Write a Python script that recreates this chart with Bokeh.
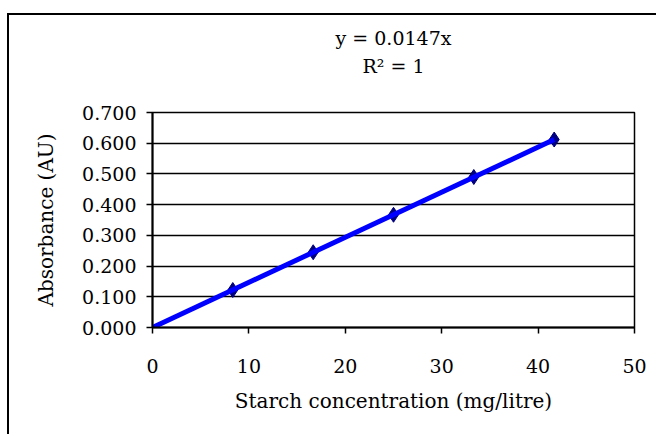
from bokeh.plotting import figure
from bokeh.models import Title, FixedTicker, NumeralTickFormatter, Range1d
from bokeh.embed import file_html
from bokeh.resources import INLINE

# data
conc = [8.33, 16.67, 25.0, 33.33, 41.67]
absorb = [0.122, 0.245, 0.367, 0.490, 0.612]
trend_x = [0.0, 41.67]
trend_y = [0.000, 0.612]
x_ticks = [0, 10, 20, 30, 40, 50]
y_ticks = [0.0, 0.1, 0.2, 0.3, 0.4, 0.5, 0.6, 0.7]
eq_text = "y = 0.0147x"
r2_text = "R\u00b2 = 1"
x_title = "Starch concentration (mg/litre)"
y_title = "Absorbance (AU)"

FONT = "DejaVu Serif"
FS_TICK = "19px"
FS_TITLE = "20px"

p = figure(width=649, height=421, output_backend="svg", toolbar_location=None,
           x_range=Range1d(0, 50), y_range=Range1d(0, 0.7),
           min_border_left=143, min_border_right=24, min_border_top=97,
           min_border_bottom=109, title=None)
p.styles = {"border-left": "2px solid black", "border-top": "2px solid black",
            "margin-left": "7px", "margin-top": "13px"}

p.background_fill_color = "white"
p.border_fill_color = "white"
p.outline_line_color = "black"
p.outline_line_width = 1.5

p.xgrid.visible = False
p.ygrid.grid_line_color = "black"
p.ygrid.grid_line_width = 1.5
p.ygrid.grid_line_alpha = 1.0

p.xaxis.ticker = FixedTicker(ticks=x_ticks)
p.yaxis.ticker = FixedTicker(ticks=y_ticks)
p.yaxis.formatter = NumeralTickFormatter(format="0.000")

for ax in (p.xaxis, p.yaxis):
    ax.axis_line_color = "black"
    ax.axis_line_width = 2
    ax.major_tick_line_color = "black"
    ax.major_tick_line_width = 1.5
    ax.major_tick_out = 6
    ax.major_tick_in = 0
    ax.minor_tick_line_color = None
    ax.major_label_text_font = FONT
    ax.major_label_text_font_size = FS_TICK
    ax.major_label_text_color = "black"
    ax.axis_label_text_font = FONT
    ax.axis_label_text_font_size = FS_TITLE
    ax.axis_label_text_font_style = "normal"
    ax.axis_label_text_color = "black"

p.xaxis.axis_label = x_title
p.yaxis.axis_label = y_title
p.xaxis.major_label_standoff = 25
p.yaxis.major_label_standoff = 10
p.xaxis.axis_label_standoff = 13
p.yaxis.axis_label_standoff = 21

p.scatter(conc, absorb, marker="diamond", size=15, fill_color="#000080",
          line_color="#000080")
p.line(trend_x, trend_y, line_color="#0000FF", line_width=5)

spacer = Title(text=" ", text_font_size="2px", standoff=29)
t2 = Title(text=r2_text, align="center", text_font=FONT, text_font_size=FS_TICK,
           text_font_style="normal", text_color="black", standoff=5)
t1 = Title(text=eq_text, align="center", text_font=FONT, text_font_size=FS_TICK,
           text_font_style="normal", text_color="black", standoff=4)
p.add_layout(spacer, "above")
p.add_layout(t2, "above")
p.add_layout(t1, "above")

open("out.html", "w").write(file_html(p, INLINE))
